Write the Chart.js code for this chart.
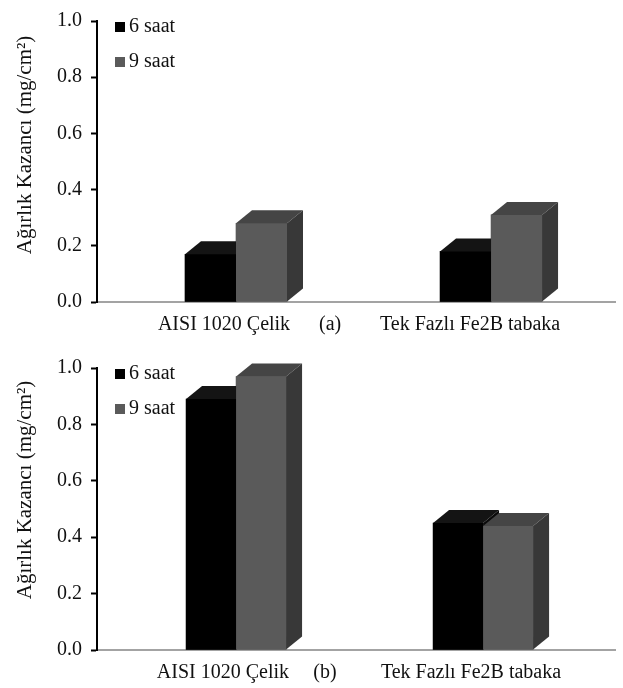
<!DOCTYPE html>
<html>
<head>
<meta charset="utf-8">
<script src="https://cdn.jsdelivr.net/npm/chart.js@4"></script>
<style>
  body { margin: 0; background: #fff; }
  .box { position: absolute; left: 0; width: 623px; }
</style>
</head>
<body>
<div class="box" style="top:0;height:340px"><canvas id="chartA" width="623" height="340"></canvas></div>
<div class="box" style="top:340px;height:348px"><canvas id="chartB" width="623" height="348"></canvas></div>
<script>
// data
var categories = ['AISI 1020 Çelik', 'Tek Fazlı Fe2B tabaka'];
var seriesNames = ['6 saat', '9 saat'];
var sixHoursA = [0.17, 0.18];
var nineHoursA = [0.28, 0.31];
var sixHoursB = [0.89, 0.45];
var nineHoursB = [0.97, 0.44];
var yTicks = [0, 0.2, 0.4, 0.6, 0.8, 1.0];
var yTitle = 'Ağırlık Kazancı (mg/cm²)';

var serif = '"Liberation Serif", "DejaVu Serif", serif';
// front, top, side colours per series
var faces = [
    { front: '#000000', top: '#141414', side: '#0a0a0a' },
    { front: '#5a5a5a', top: '#454545', side: '#383838' }
];

// fake 3D columns, drawn from the bar elements chart.js lays out
var bars3d = {
    id: 'bars3d',
    afterDatasetsDraw: function(chart) {
        var ctx = chart.ctx;
        var dx = 16, dy = 13;
        var n = chart.data.labels.length;
        ctx.save();
        for (var j = 0; j < n; j++) {
            chart.data.datasets.forEach(function(ds, i) {
                var el = chart.getDatasetMeta(i).data[j];
                var L = el.x - el.width / 2, R = el.x + el.width / 2;
                var top = el.y, base = el.base;
                ctx.fillStyle = faces[i].front;
                ctx.fillRect(L, top, R - L, base - top);
                ctx.fillStyle = faces[i].top;
                ctx.beginPath();
                ctx.moveTo(L, top);
                ctx.lineTo(L + dx, top - dy);
                ctx.lineTo(R + dx, top - dy);
                ctx.lineTo(R, top);
                ctx.closePath();
                ctx.fill();
                ctx.fillStyle = faces[i].side;
                ctx.beginPath();
                ctx.moveTo(R, top);
                ctx.lineTo(R + dx, top - dy);
                ctx.lineTo(R + dx, base - dy);
                ctx.lineTo(R, base);
                ctx.closePath();
                ctx.fill();
            });
        }
        ctx.restore();
    }
};

// legend sits inside the plot, top left; y title drawn here too
var innerLegend = {
    id: 'innerLegend',
    afterDraw: function(chart, args, opts) {
        var ctx = chart.ctx, a = chart.chartArea;
        ctx.save();
        ctx.font = '20px ' + serif;
        ctx.textBaseline = 'middle';
        chart.data.datasets.forEach(function(ds, i) {
            var cy = a.top + 6 + i * 35;
            ctx.fillStyle = faces[i].front;
            ctx.fillRect(a.left + 18, cy - 5, 10, 10);
            ctx.fillStyle = '#111';
            ctx.fillText(ds.label, a.left + 32, cy);
        });
        ctx.font = '21px ' + serif;
        ctx.textAlign = 'center';
        ctx.translate(25, opts.titleY);
        ctx.rotate(-Math.PI / 2);
        ctx.fillText(yTitle, 0, 0);
        ctx.restore();
    }
};

function makeChart(id, six, nine, caption, xMin, xMax, tickAt, barW, padTop, titleY) {
    var xLabels = [categories[0], caption, categories[1]];
    return new Chart(document.getElementById(id), {
        type: 'bar',
        data: {
            labels: categories,
            datasets: [
                { label: seriesNames[0], data: categories.map(function(c, k) { return { x: k, y: six[k] }; }), backgroundColor: faces[0].front },
                { label: seriesNames[1], data: categories.map(function(c, k) { return { x: k, y: nine[k] }; }), backgroundColor: faces[1].front }
            ]
        },
        options: {
            responsive: false,
            animation: false,
            layout: { padding: { top: padTop, right: 8, left: 0, bottom: 0 } },
            barThickness: barW,
            plugins: {
                legend: { display: false },
                tooltip: { enabled: false },
                innerLegend: { titleY: titleY }
            },
            scales: {
                x: {
                    type: 'linear',
                    offset: false,
                    min: xMin,
                    max: xMax,
                    afterBuildTicks: function(s) {
                        s.ticks = tickAt.map(function(v) { return { value: v }; });
                    },
                    afterFit: function(s) { s.height = 38; },
                    grid: { offset: false, drawOnChartArea: false, drawTicks: false },
                    border: { color: '#a3a3a3', width: 2 },
                    ticks: {
                        autoSkip: false,
                        maxRotation: 0,
                        padding: 11,
                        color: '#111',
                        font: { family: serif, size: 20 },
                        callback: function(v, k) { return xLabels[k]; }
                    }
                },
                y: {
                    min: 0,
                    max: 1,
                    afterBuildTicks: function(s) {
                        s.ticks = yTicks.map(function(v) { return { value: v }; });
                    },
                    afterFit: function(s) { s.width = 97; },
                    grid: { drawOnChartArea: false, drawTicks: true, tickLength: 6, tickColor: '#000', tickWidth: 2 },
                    border: { color: '#000', width: 2 },
                    ticks: {
                        padding: 9,
                        color: '#111',
                        font: { family: serif, size: 20 },
                        callback: function(v) { return v.toFixed(1); }
                    }
                }
            }
        },
        plugins: [bars3d, innerLegend]
    });
}

makeChart('chartA', sixHoursA, nineHoursA, '(a)', -0.545, 1.486, [-0.047, 0.369, 0.918], 51, 12, 145);
makeChart('chartB', sixHoursB, nineHoursB, '(b)', -0.563, 1.534, [-0.053, 0.36, 0.951], 50, 28, 150);
</script>
</body>
</html>
